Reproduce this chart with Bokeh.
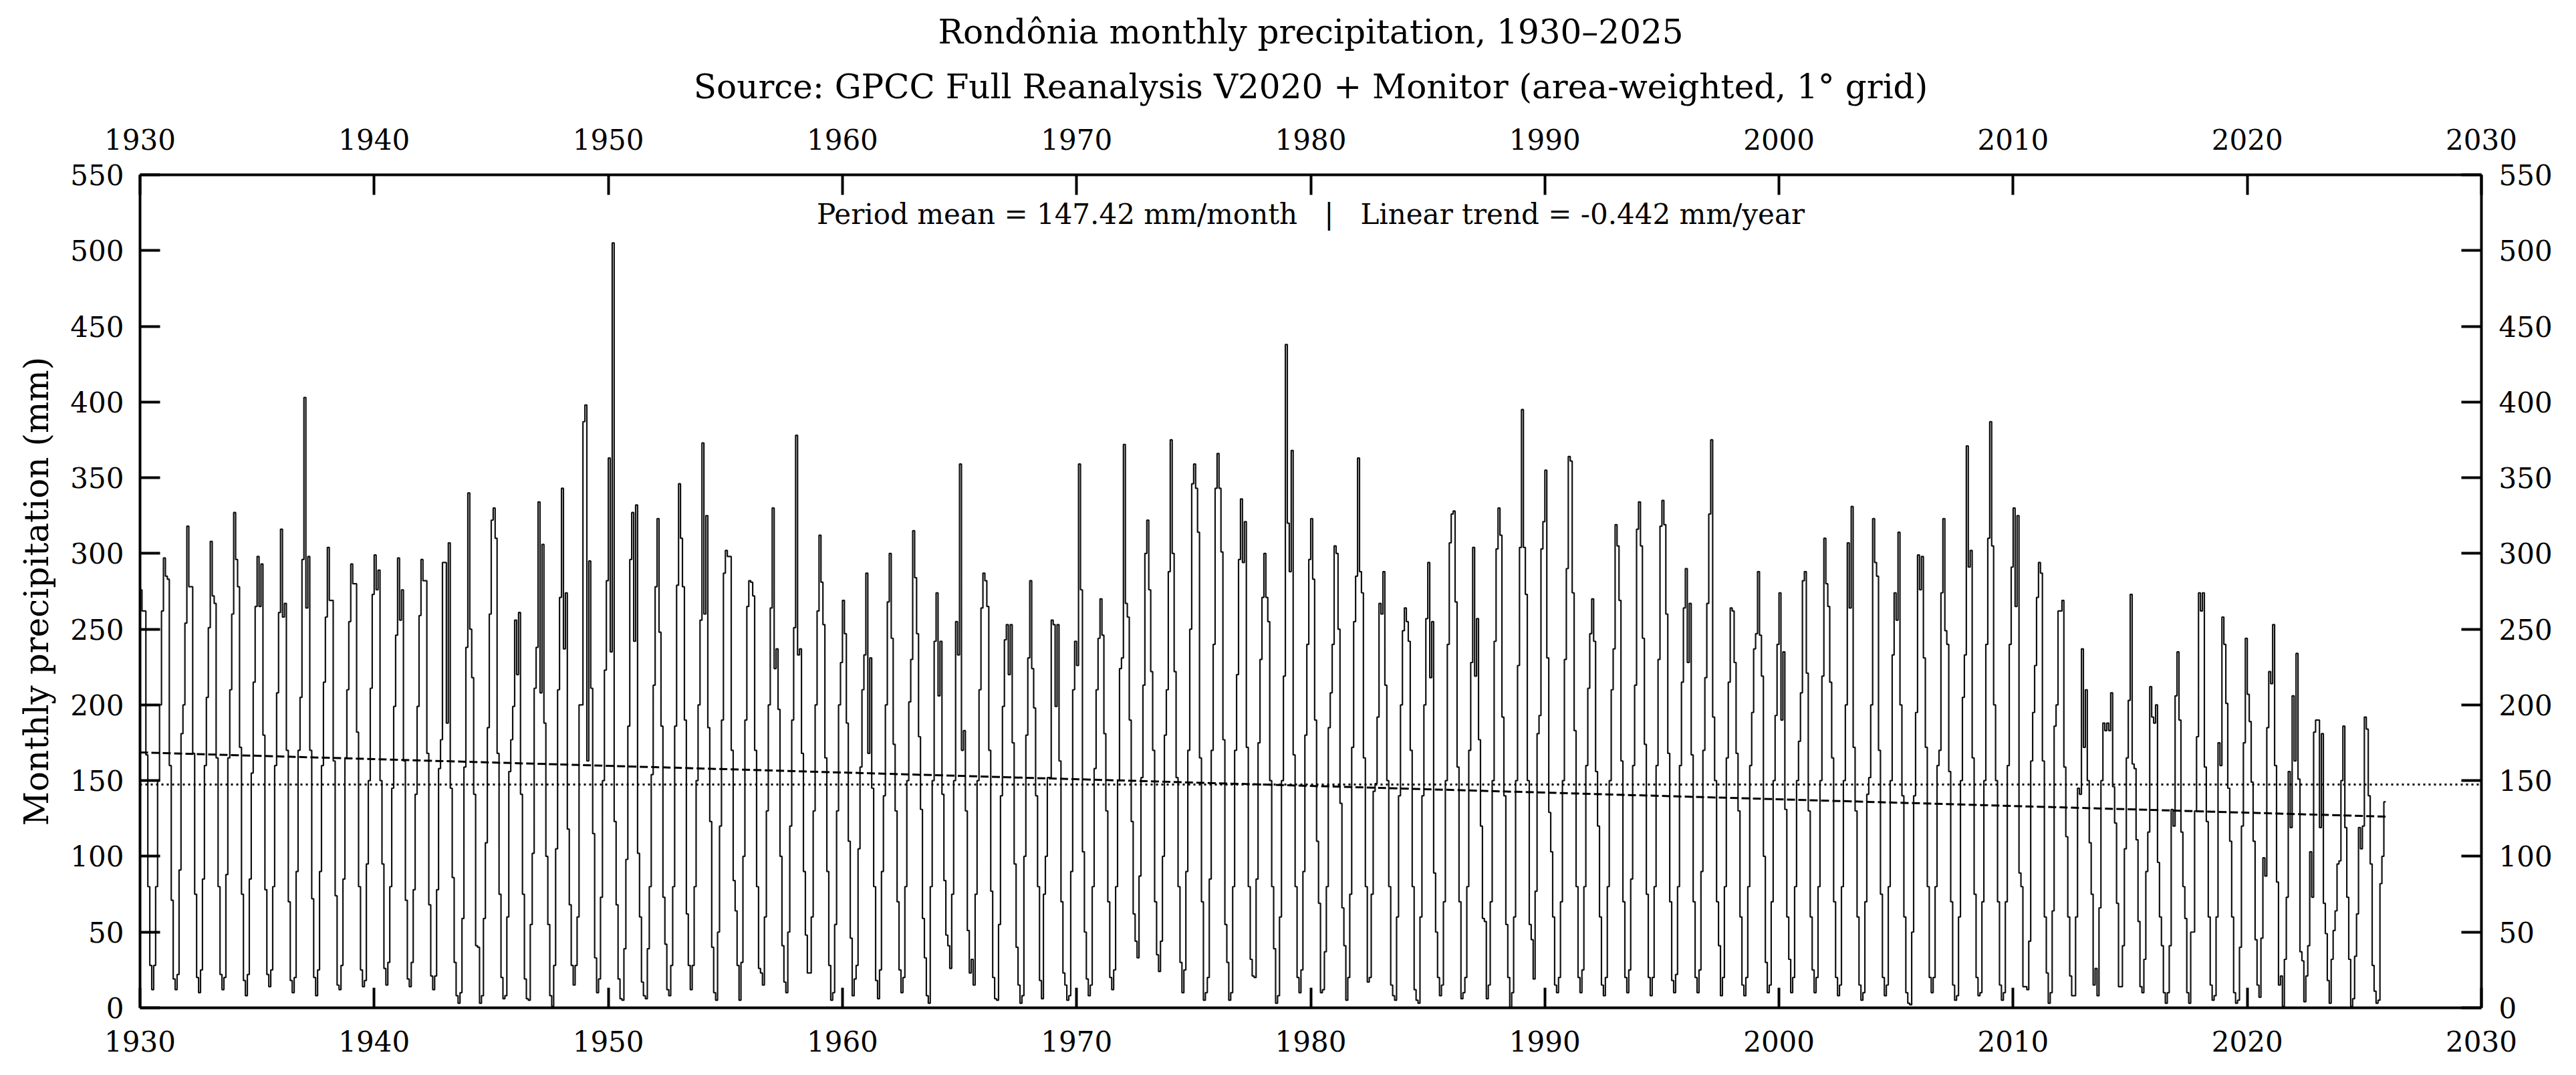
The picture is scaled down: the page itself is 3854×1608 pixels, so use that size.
from bokeh.plotting import figure
from bokeh.models import LinearAxis, Span, Label, Title, FixedTicker, Range1d
from bokeh.embed import file_html
from bokeh.resources import INLINE

# Monthly precipitation over Rondônia (mm), Jan..Dec per row
PRECIP_1930S = [
    [276, 262, 262, 167, 80, 28, 12, 28, 80, 150, 200, 262],
    [297, 285, 283, 160, 71, 19, 12, 22, 91, 181, 200, 254],
    [318, 278, 278, 168, 75, 20, 10, 25, 85, 160, 205, 251],
    [308, 272, 267, 165, 80, 22, 12, 20, 88, 165, 210, 260],
    [327, 296, 278, 172, 75, 18, 8, 22, 85, 155, 215, 265],
    [298, 265, 293, 180, 78, 22, 14, 25, 80, 160, 208, 261],
    [316, 258, 267, 170, 70, 18, 10, 20, 90, 170, 205, 296],
    [403, 264, 298, 170, 72, 20, 8, 25, 90, 160, 215, 258],
    [304, 269, 269, 163, 74, 15, 12, 28, 85, 165, 210, 255],
    [293, 280, 280, 182, 80, 25, 14, 18, 95, 150, 211, 273],
]
PRECIP_1940S = [
    [299, 276, 289, 150, 95, 26, 15, 30, 80, 145, 199, 246],
    [297, 256, 276, 163, 71, 19, 14, 30, 78, 141, 199, 259],
    [296, 282, 282, 168, 68, 21, 12, 21, 78, 158, 177, 294],
    [294, 188, 307, 145, 86, 30, 8, 3, 10, 59, 159, 238],
    [340, 250, 218, 141, 41, 40, 3, 8, 59, 109, 185, 260],
    [322, 330, 310, 168, 75, 20, 6, 8, 60, 156, 177, 199],
    [256, 220, 261, 141, 75, 19, 6, 5, 55, 102, 211, 238],
    [334, 208, 306, 188, 100, 55, 8, 1, 28, 105, 210, 271],
    [343, 237, 274, 118, 68, 28, 15, 28, 60, 200, 200, 387],
    [398, 163, 295, 211, 115, 33, 10, 19, 73, 150, 223, 282],
]
PRECIP_1950S = [
    [363, 235, 505, 123, 68, 19, 6, 5, 39, 98, 186, 296],
    [327, 242, 332, 102, 60, 17, 8, 6, 39, 80, 154, 213],
    [278, 323, 248, 186, 73, 42, 12, 8, 28, 80, 186, 279],
    [346, 310, 278, 190, 62, 28, 12, 28, 80, 150, 200, 256],
    [373, 260, 325, 185, 123, 40, 10, 5, 50, 120, 190, 287],
    [302, 298, 298, 170, 84, 64, 28, 5, 30, 100, 190, 265],
    [282, 281, 272, 170, 80, 26, 23, 15, 60, 130, 200, 264],
    [330, 224, 237, 197, 100, 41, 17, 10, 50, 120, 190, 251],
    [378, 233, 237, 168, 90, 48, 23, 23, 60, 130, 200, 262],
    [312, 281, 253, 165, 90, 28, 5, 10, 55, 130, 200, 228],
]
PRECIP_1960S = [
    [269, 247, 188, 110, 46, 8, 19, 28, 105, 159, 210, 233],
    [287, 168, 231, 145, 80, 18, 6, 25, 90, 140, 200, 268],
    [300, 244, 174, 130, 70, 25, 10, 20, 80, 150, 202, 230],
    [315, 284, 247, 179, 131, 59, 33, 8, 3, 80, 150, 242],
    [274, 206, 242, 141, 84, 48, 41, 26, 75, 150, 255, 233],
    [359, 170, 183, 130, 51, 23, 32, 15, 75, 150, 210, 264],
    [287, 282, 265, 170, 77, 20, 6, 5, 55, 140, 199, 243],
    [253, 220, 253, 175, 95, 40, 15, 3, 8, 100, 180, 231],
    [282, 224, 198, 140, 80, 18, 6, 75, 100, 152, 152, 256],
    [253, 199, 253, 163, 70, 23, 15, 5, 8, 90, 210, 242],
]
PRECIP_1970S = [
    [226, 359, 276, 103, 50, 19, 8, 15, 80, 158, 210, 244],
    [270, 246, 181, 130, 70, 20, 12, 25, 80, 150, 224, 231],
    [372, 267, 258, 190, 123, 62, 44, 33, 87, 152, 213, 300],
    [322, 276, 222, 170, 70, 35, 24, 44, 100, 180, 210, 288],
    [375, 300, 222, 152, 80, 30, 10, 25, 90, 170, 250, 346],
    [359, 343, 314, 165, 70, 5, 10, 20, 85, 170, 240, 343],
    [366, 343, 301, 177, 55, 30, 5, 10, 80, 170, 220, 296],
    [336, 294, 321, 172, 80, 32, 21, 20, 85, 175, 230, 271],
    [300, 271, 255, 150, 80, 39, 3, 8, 60, 150, 219, 438],
    [320, 288, 368, 167, 80, 20, 10, 25, 90, 180, 240, 296],
]
PRECIP_1980S = [
    [323, 283, 190, 110, 69, 10, 12, 37, 80, 185, 208, 240],
    [305, 300, 250, 135, 66, 41, 5, 20, 75, 172, 255, 285],
    [363, 288, 274, 165, 80, 17, 20, 75, 143, 148, 192, 267],
    [260, 288, 213, 150, 80, 15, 8, 5, 60, 140, 200, 249],
    [264, 255, 242, 170, 80, 12, 5, 3, 60, 140, 200, 257],
    [294, 218, 255, 89, 50, 20, 8, 15, 70, 150, 240, 307],
    [326, 328, 268, 159, 70, 6, 10, 20, 80, 170, 228, 304],
    [219, 257, 177, 120, 59, 57, 6, 15, 70, 150, 242, 303],
    [330, 312, 192, 140, 55, 20, 0, 10, 60, 150, 226, 304],
    [395, 304, 273, 150, 55, 45, 19, 77, 181, 193, 303, 321],
]
PRECIP_1990S = [
    [355, 231, 129, 103, 60, 15, 10, 20, 70, 150, 230, 290],
    [364, 361, 274, 183, 80, 20, 10, 25, 80, 160, 211, 247],
    [270, 242, 156, 120, 60, 15, 8, 20, 80, 150, 210, 237],
    [319, 305, 269, 163, 70, 20, 10, 25, 85, 160, 213, 316],
    [334, 305, 244, 174, 75, 20, 8, 20, 80, 160, 230, 318],
    [335, 319, 260, 168, 70, 18, 10, 22, 80, 160, 215, 264],
    [290, 228, 267, 167, 70, 20, 10, 25, 90, 170, 218, 267],
    [326, 375, 192, 150, 70, 41, 8, 20, 80, 165, 215, 264],
    [262, 228, 168, 130, 60, 15, 8, 20, 80, 160, 195, 237],
    [247, 288, 246, 219, 100, 30, 10, 15, 70, 150, 193, 240],
]
PRECIP_2000S = [
    [274, 190, 235, 131, 60, 32, 10, 20, 80, 150, 176, 208],
    [282, 288, 221, 130, 60, 25, 10, 20, 80, 150, 219, 310],
    [280, 265, 215, 165, 70, 20, 8, 15, 80, 150, 200, 307],
    [264, 331, 172, 130, 60, 15, 5, 10, 70, 141, 152, 200],
    [323, 294, 285, 170, 75, 20, 8, 15, 80, 150, 233, 274],
    [256, 314, 200, 140, 60, 10, 3, 2, 50, 140, 195, 299],
    [276, 298, 231, 172, 80, 20, 10, 20, 80, 160, 170, 274],
    [323, 249, 240, 156, 70, 15, 5, 8, 60, 150, 205, 233],
    [371, 291, 302, 165, 75, 20, 8, 10, 70, 150, 240, 310],
    [387, 305, 200, 150, 70, 15, 5, 10, 70, 160, 240, 291],
]
PRECIP_2010S = [
    [330, 265, 325, 89, 80, 14, 14, 12, 44, 163, 195, 226],
    [271, 294, 287, 163, 60, 23, 3, 10, 64, 186, 200, 262],
    [262, 269, 159, 113, 60, 21, 8, 8, 60, 145, 141, 237],
    [172, 210, 150, 109, 75, 15, 26, 8, 66, 150, 188, 183],
    [188, 183, 208, 146, 122, 69, 14, 14, 41, 105, 165, 203],
    [273, 161, 158, 111, 57, 14, 10, 32, 90, 116, 212, 192],
    [188, 200, 96, 60, 41, 10, 3, 10, 41, 131, 120, 206],
    [235, 190, 116, 80, 59, 10, 3, 50, 50, 130, 179, 274],
    [262, 274, 159, 123, 60, 15, 5, 8, 60, 175, 160, 258],
    [240, 201, 145, 110, 60, 10, 3, 5, 40, 120, 175, 244],
]
PRECIP_2020S = [
    [207, 189, 149, 110, 45, 15, 7, 46, 99, 87, 185, 222],
    [214, 253, 160, 83, 15, 21, 1, 32, 73, 156, 119, 206],
    [163, 234, 151, 37, 31, 4, 21, 41, 103, 73, 182, 190],
    [190, 119, 181, 69, 49, 18, 3, 32, 51, 64, 95, 97],
    [150, 186, 119, 73, 32, 1, 6, 34, 62, 119, 105, 120],
    [192, 184, 140, 95, 28, 11, 3, 5, 82, 100, 136],
]

FIRST_YEAR = 1930
PERIOD_MEAN = 147.42      # mm/month
TREND_PER_YEAR = -0.442   # mm/year

X_TICKS = list(range(1930, 2031, 10))
Y_TICKS = list(range(0, 551, 50))

TITLE_1 = "Rondônia monthly precipitation, 1930–2025"
TITLE_2 = "Source: GPCC Full Reanalysis V2020 + Monitor (area-weighted, 1° grid)"
Y_LABEL = "Monthly precipitation (mm)"

FONT = "DejaVu Serif"
NBSP = "\u00a0"

# flatten to a monthly series with decimal-year time stamps
values = [v for decade in (PRECIP_1930S, PRECIP_1940S, PRECIP_1950S, PRECIP_1960S,
                           PRECIP_1970S, PRECIP_1980S, PRECIP_1990S, PRECIP_2000S,
                           PRECIP_2010S, PRECIP_2020S)
          for year in decade for v in year]
times = [FIRST_YEAR + i / 12.0 for i in range(len(values))]
# each month is drawn as a flat step over its own span
step_t = times + [times[-1] + 1 / 12.0]
step_v = values + [values[-1]]

p = figure(width=3854, height=1608,
           x_range=Range1d(1930, 2030), y_range=Range1d(0, 550),
           output_backend="svg", toolbar_location=None, title=None,
           x_axis_location=None, y_axis_location=None,
           min_border_left=209, min_border_right=142,
           min_border_top=261, min_border_bottom=101)
p.xgrid.visible = False
p.ygrid.visible = False
p.outline_line_color = None
p.background_fill_color = "white"
p.border_fill_color = "white"


def make_axis(ticks, standoff, **kw):
    ax = LinearAxis(**kw)
    ax.ticker = FixedTicker(ticks=ticks, minor_ticks=[])
    ax.major_tick_in = 30
    ax.major_tick_out = 0
    ax.minor_tick_in = 0
    ax.minor_tick_out = 0
    ax.major_tick_line_width = 4
    ax.major_tick_line_color = "black"
    ax.axis_line_width = 4
    ax.axis_line_color = "black"
    ax.major_label_text_font = FONT
    ax.major_label_text_font_size = "42px"
    ax.major_label_text_color = "black"
    ax.major_label_standoff = standoff
    return ax


bottom = make_axis(X_TICKS, 34)
top = make_axis(X_TICKS, 38)
left = make_axis(Y_TICKS, 24, axis_label=Y_LABEL)
right = make_axis(Y_TICKS, 26)
left.axis_label_text_font = FONT
left.axis_label_text_font_size = "50px"
left.axis_label_text_font_style = "normal"
left.axis_label_text_color = "black"
left.axis_label_standoff = 18
p.add_layout(bottom, "below")
p.add_layout(top, "above")
p.add_layout(left, "left")
p.add_layout(right, "right")

# two centred title lines stacked above the top axis
for txt, gap in ((TITLE_2, 62), (TITLE_1, -18)):
    p.add_layout(Title(text=txt, align="center", text_font=FONT, text_font_size="50px",
                       text_font_style="normal", text_color="black", standoff=gap), "above")

# the monthly series
p.step(step_t, step_v, mode="after", line_color="#111111", line_width=2.2)

# period mean (dotted, across the whole frame)
p.add_layout(Span(location=PERIOD_MEAN, dimension="width", line_color="black",
                  line_width=3, line_dash="3 5"))

# least-squares trend line through the series centre
t_mid = sum(times) / len(times) + 0.5 / 12.0
t0, t1 = step_t[0], step_t[-1]
p.line([t0, t1],
       [PERIOD_MEAN + TREND_PER_YEAR * (t0 - t_mid), PERIOD_MEAN + TREND_PER_YEAR * (t1 - t_mid)],
       line_color="black", line_width=3, line_dash="12 5")

# statistics annotation inside the frame
px_per_mm = (1507 - 261) / 550.0
stats = (f"Period mean = {PERIOD_MEAN:.2f} mm/month" + NBSP * 3 + "|" + NBSP * 3 +
         f"Linear trend = {TREND_PER_YEAR:.3f} mm/year")
p.add_layout(Label(x=1980, y=550 - (320 - 261) / px_per_mm, text=stats, text_align="center",
                   text_baseline="alphabetic", text_font=FONT,
                   text_font_size="42px", text_color="black"))

open("out.html", "w").write(file_html(p, INLINE))
